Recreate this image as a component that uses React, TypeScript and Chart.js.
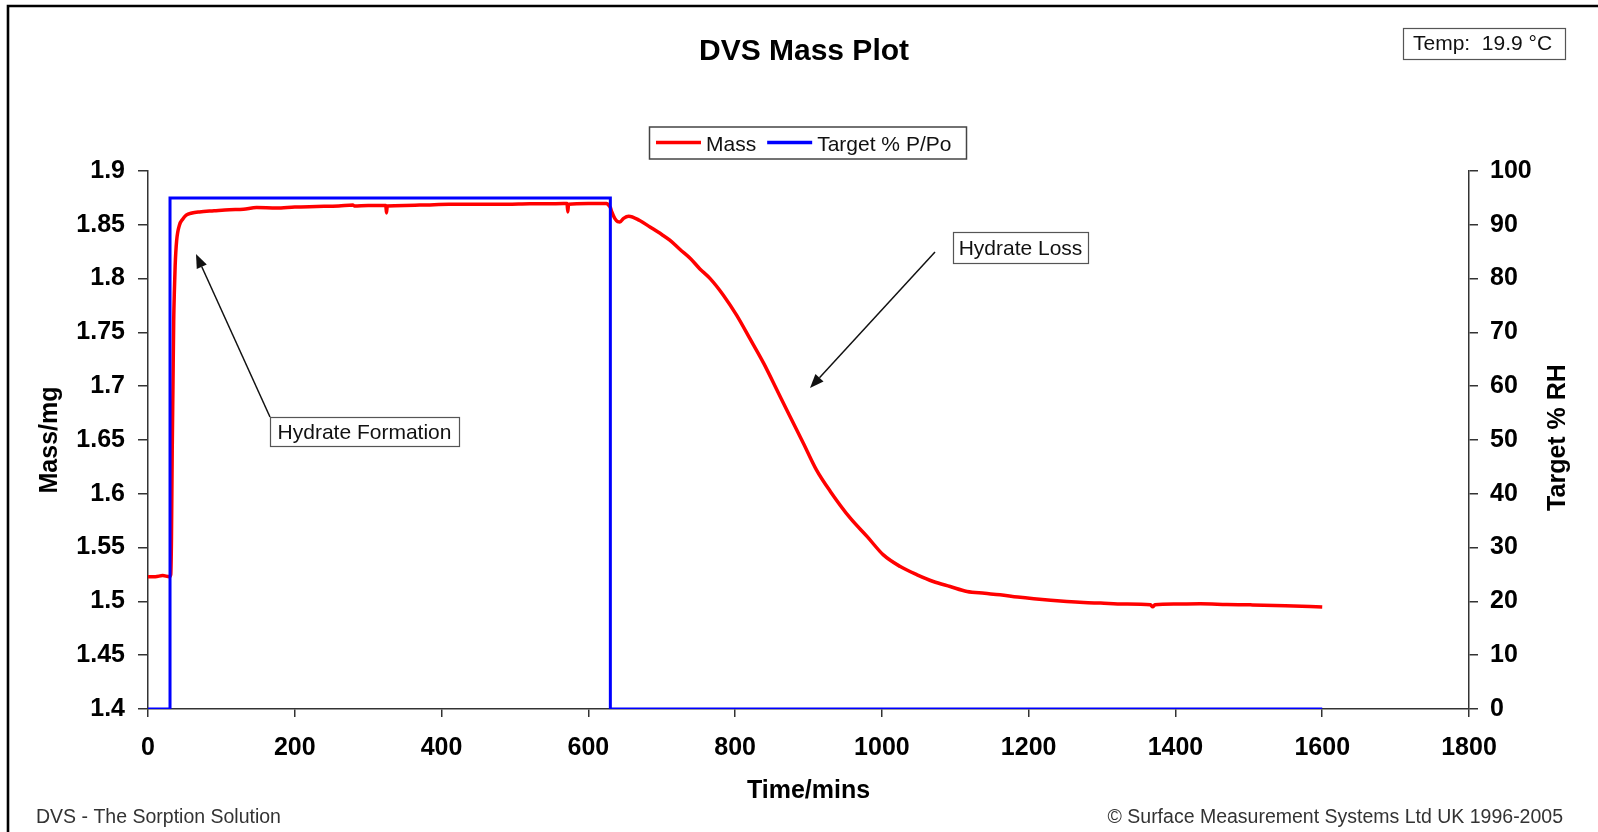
import React, { useEffect, useRef } from 'react';
import { Chart, registerables } from 'chart.js';

Chart.register(...registerables);

const FONT = 'Arial, "Liberation Sans", Helvetica, sans-serif';

const CHART_TITLE = 'DVS Mass Plot';
const X_TITLE = 'Time/mins';
const Y_TITLE = 'Mass/mg';
const Y1_TITLE = 'Target % RH';
const TEMP_LABEL = 'Temp:  19.9 °C';
const FOOTER_LEFT = 'DVS - The Sorption Solution';
const FOOTER_RIGHT = '© Surface Measurement Systems Ltd UK 1996-2005';
const NOTE_FORMATION = 'Hydrate Formation';
const NOTE_LOSS = 'Hydrate Loss';

const seriesNames = ['Mass', 'Target % P/Po'];

const massTime = [
  0, 10, 20, 29, 31, 32, 33, 34, 35, 36, 37, 39, 43, 47, 52, 60, 70, 90, 111, 130,
  148, 175, 200, 230, 260, 279, 281, 300, 324, 325, 326, 350, 380, 410, 429, 460,
  490, 520, 545, 566, 571, 572, 573, 600, 625, 628, 630, 632, 636, 640, 643, 648,
  655, 670, 684, 700, 711, 725, 739, 752, 766, 784, 802, 820, 839, 857, 875, 893,
  911, 930, 957, 980, 1002, 1025, 1048, 1070, 1093, 1116, 1140, 1161, 1185, 1207,
  1230, 1252, 1275, 1298, 1330, 1366, 1369, 1372, 1400, 1434, 1470, 1502, 1550, 1600,
];
const massValue = [
  1.523, 1.523, 1.524, 1.523, 1.525, 1.56, 1.64, 1.7, 1.76, 1.79, 1.812, 1.835, 1.85, 1.855, 1.859, 1.861, 1.862, 1.863, 1.864, 1.8645,
  1.866, 1.8655, 1.8665, 1.867, 1.8675, 1.8685, 1.8675, 1.868, 1.868, 1.861, 1.8675, 1.868, 1.8685, 1.869, 1.869, 1.869,
  1.869, 1.8695, 1.8695, 1.8697, 1.8697, 1.862, 1.869, 1.8697, 1.8697, 1.868, 1.866, 1.862, 1.856, 1.853, 1.8527, 1.856,
  1.858, 1.854, 1.848, 1.841, 1.8357, 1.827, 1.8187, 1.809, 1.8, 1.7846, 1.766, 1.7444, 1.7212, 1.6964, 1.6716, 1.647,
  1.622, 1.602, 1.5773, 1.5602, 1.5432, 1.5324, 1.5247, 1.5185, 1.5138, 1.5092, 1.5075, 1.5061, 1.504, 1.5024,
  1.501, 1.4999, 1.499, 1.4984, 1.4975, 1.4968, 1.495, 1.4968, 1.4975, 1.4978, 1.4972, 1.4968, 1.496, 1.4947,
];

const targetTime = [0, 30, 30, 630, 630, 1600];
const targetValue = [0, 0, 95, 95, 0, 0];

const xTicks = [0, 200, 400, 600, 800, 1000, 1200, 1400, 1600, 1800];
const xTickLabels = ['0', '200', '400', '600', '800', '1000', '1200', '1400', '1600', '1800'];
const massTicks = [1.4, 1.45, 1.5, 1.55, 1.6, 1.65, 1.7, 1.75, 1.8, 1.85, 1.9];
const massTickLabels = ['1.4', '1.45', '1.5', '1.55', '1.6', '1.65', '1.7', '1.75', '1.8', '1.85', '1.9'];
const rhTicks = [0, 10, 20, 30, 40, 50, 60, 70, 80, 90, 100];
const rhTickLabels = ['0', '10', '20', '30', '40', '50', '60', '70', '80', '90', '100'];

const seriesColors = ['#ff0000', '#0000ff'];

function drawArrow(ctx: CanvasRenderingContext2D, x1: number, y1: number, x2: number, y2: number) {
  const ang = Math.atan2(y2 - y1, x2 - x1);
  const len = 14;
  const hw = 5.5;
  const bx = x2 - len * Math.cos(ang);
  const by = y2 - len * Math.sin(ang);
  ctx.strokeStyle = '#111';
  ctx.fillStyle = '#111';
  ctx.lineWidth = 1.5;
  ctx.beginPath();
  ctx.moveTo(x1, y1);
  ctx.lineTo(bx, by);
  ctx.stroke();
  ctx.beginPath();
  ctx.moveTo(x2, y2);
  ctx.lineTo(bx + hw * Math.sin(ang), by - hw * Math.cos(ang));
  ctx.lineTo(bx - hw * Math.sin(ang), by + hw * Math.cos(ang));
  ctx.closePath();
  ctx.fill();
}

function drawTextBox(ctx: CanvasRenderingContext2D, text: string, x: number, y: number, w: number, h: number, baseline: number) {
  ctx.fillStyle = '#fff';
  ctx.fillRect(x, y, w, h);
  ctx.strokeStyle = '#555';
  ctx.lineWidth = 1.2;
  ctx.strokeRect(x + 0.5, y + 0.5, w, h);
  ctx.fillStyle = '#111';
  ctx.font = `21px ${FONT}`;
  ctx.textAlign = 'center';
  ctx.textBaseline = 'alphabetic';
  ctx.fillText(text, x + w / 2, baseline);
}

const overlayPlugin = {
  id: 'overlay',
  afterDraw(chart: any) {
    const ctx: CanvasRenderingContext2D = chart.ctx;
    ctx.save();

    // outer frame (top & left visible)
    ctx.strokeStyle = '#000';
    ctx.lineWidth = 2.6;
    ctx.beginPath();
    ctx.moveTo(8, 840);
    ctx.lineTo(8, 6);
    ctx.lineTo(1610, 6);
    ctx.stroke();

    // title
    ctx.fillStyle = '#000';
    ctx.font = `bold 30px ${FONT}`;
    ctx.textAlign = 'center';
    ctx.textBaseline = 'alphabetic';
    ctx.fillText(CHART_TITLE, 804, 60);

    // temperature box
    ctx.fillStyle = '#fff';
    ctx.fillRect(1403, 28, 163, 31);
    ctx.strokeStyle = '#555';
    ctx.lineWidth = 1.2;
    ctx.strokeRect(1403.5, 28.5, 162, 31);
    ctx.fillStyle = '#111';
    ctx.font = `21px ${FONT}`;
    ctx.textAlign = 'left';
    ctx.fillText(TEMP_LABEL, 1413, 49.5);

    // legend
    ctx.strokeStyle = '#444';
    ctx.lineWidth = 1.5;
    ctx.strokeRect(649.5, 127, 317, 32);
    ctx.font = `21px ${FONT}`;
    ctx.textAlign = 'left';
    let lx = 656;
    chart.data.datasets.forEach((ds: any) => {
      ctx.strokeStyle = ds.borderColor;
      ctx.lineWidth = 3.5;
      ctx.beginPath();
      ctx.moveTo(lx, 142.5);
      ctx.lineTo(lx + 45, 142.5);
      ctx.stroke();
      ctx.fillStyle = '#111';
      ctx.fillText(ds.label, lx + 50, 150.5);
      lx = lx + 50 + ctx.measureText(ds.label).width + 11;
    });

    // right axis title (reads bottom to top)
    ctx.save();
    ctx.translate(1558, 437.5);
    ctx.rotate(-Math.PI / 2);
    ctx.fillStyle = '#000';
    ctx.font = `bold 25px ${FONT}`;
    ctx.textAlign = 'center';
    ctx.textBaseline = 'middle';
    ctx.fillText(Y1_TITLE, 0, 0);
    ctx.restore();

    // annotations
    drawArrow(ctx, 270, 417, 196, 254);
    drawTextBox(ctx, NOTE_FORMATION, 270, 417, 189, 29, 439);
    drawArrow(ctx, 935, 252, 810, 388);
    drawTextBox(ctx, NOTE_LOSS, 953, 232, 135, 31, 255);

    // footers
    ctx.fillStyle = '#333';
    ctx.font = `19.5px ${FONT}`;
    ctx.textAlign = 'left';
    ctx.textBaseline = 'alphabetic';
    ctx.fillText(FOOTER_LEFT, 36, 822.5);
    ctx.textAlign = 'right';
    ctx.fillText(FOOTER_RIGHT, 1563, 822.5);

    ctx.restore();
  },
};

export default function App() {
  const ref = useRef<HTMLCanvasElement | null>(null);

  useEffect(() => {
    if (!ref.current) return;
    const tickFont = { family: FONT, size: 25, weight: 'bold' as const };
    const chart = new Chart(ref.current, {
      type: 'line',
      data: {
        datasets: [
          {
            label: seriesNames[0],
            data: massTime.map((t, i) => ({ x: t, y: massValue[i] })),
            borderColor: seriesColors[0],
            backgroundColor: seriesColors[0],
            borderWidth: 3.5,
            pointRadius: 0,
            cubicInterpolationMode: 'monotone',
            yAxisID: 'y',
            order: 1,
          },
          {
            label: seriesNames[1],
            data: targetTime.map((t, i) => ({ x: t, y: targetValue[i] })),
            borderColor: seriesColors[1],
            backgroundColor: seriesColors[1],
            borderWidth: 3,
            pointRadius: 0,
            tension: 0,
            yAxisID: 'y1',
            order: 0,
          },
        ],
      },
      options: {
        animation: false,
        responsive: false,
        maintainAspectRatio: false,
        layout: { padding: { top: 171, left: 0, right: 0, bottom: 0 } },
        plugins: {
          legend: { display: false },
          title: { display: false },
          tooltip: { enabled: false },
        },
        scales: {
          x: {
            type: 'linear',
            min: 0,
            max: 1800,
            afterBuildTicks: (s: any) => {
              s.ticks = xTicks.map((v) => ({ value: v }));
            },
            afterFit: (s: any) => {
              s.height = 123;
            },
            ticks: {
              autoSkip: false,
              maxRotation: 0,
              font: tickFont,
              color: '#000',
              padding: 16,
              callback: (_v: any, i: number) => xTickLabels[i],
            },
            grid: { drawOnChartArea: false, drawTicks: true, tickLength: 8, color: '#333', lineWidth: 1.5 },
            border: { display: true, color: '#333', width: 1.5 },
            title: {
              display: true,
              text: X_TITLE,
              color: '#000',
              font: { family: FONT, size: 25, weight: 'bold' },
              padding: { top: 0, bottom: 26 },
            },
          },
          y: {
            type: 'linear',
            position: 'left',
            min: 1.4,
            max: 1.9,
            afterBuildTicks: (s: any) => {
              s.ticks = massTicks.map((v) => ({ value: v }));
            },
            afterFit: (s: any) => {
              s.width = 148;
            },
            ticks: {
              autoSkip: false,
              font: tickFont,
              color: '#000',
              padding: 13,
              callback: (_v: any, i: number) => massTickLabels[i],
            },
            grid: { drawOnChartArea: false, drawTicks: true, tickLength: 10, color: '#333', lineWidth: 1.5 },
            border: { display: true, color: '#333', width: 1.5 },
            title: {
              display: true,
              text: Y_TITLE,
              color: '#000',
              font: { family: FONT, size: 25, weight: 'bold' },
              padding: { top: 35, bottom: 0 },
            },
          },
          y1: {
            type: 'linear',
            position: 'right',
            min: 0,
            max: 100,
            afterBuildTicks: (s: any) => {
              s.ticks = rhTicks.map((v) => ({ value: v }));
            },
            afterFit: (s: any) => {
              s.width = 129;
            },
            ticks: {
              autoSkip: false,
              font: tickFont,
              color: '#000',
              padding: 12,
              callback: (_v: any, i: number) => rhTickLabels[i],
            },
            grid: { drawOnChartArea: false, drawTicks: true, tickLength: 9, color: '#333', lineWidth: 1.5 },
            border: { display: true, color: '#333', width: 1.5 },
            title: { display: false },
          },
        },
      },
      plugins: [overlayPlugin],
    });
    return () => chart.destroy();
  }, []);

  return (
    <div style={{ position: 'fixed', left: 0, top: 0, width: 1598, height: 832, background: '#fff', overflow: 'hidden' }}>
      <canvas ref={ref} width={1598} height={832} style={{ display: 'block', width: 1598, height: 832 }} />
    </div>
  );
}
